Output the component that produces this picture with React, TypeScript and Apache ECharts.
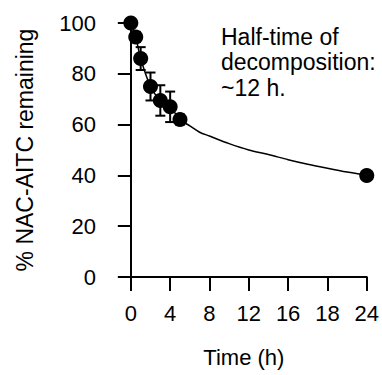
import React, { useEffect, useRef } from "react";
import * as echarts from "echarts";

const timeH = [0, 0.5, 1, 2, 3, 4, 5, 24];
const meanPct = [100, 94.5, 86, 75, 69.5, 67, 62, 40];
const sdPct = [1, 2, 4.5, 5.5, 6, 6, 2, 1.5];

const fitTime = [0, 0.5, 1, 2, 3, 4, 5, 6, 7, 8, 10, 12, 14, 16, 18, 20, 22, 24];
const fitPct = [100, 94.5, 86, 75, 69.5, 67, 62, 59.5, 57, 55.5, 52.5, 50, 48.2, 46.2, 44.4, 42.8, 41.3, 40];

const xTickValues = [0, 4, 8, 12, 16, 20, 24];
const xTickLabels = ["0", "4", "8", "12", "16", "18", "24"];

const yAxisTitle = "% NAC-AITC remaining";
const xAxisTitle = "Time (h)";
const annotationLines = ["Half-time of", "decomposition:", "~12 h."];

const FONT = "Liberation Sans, Arial, sans-serif";

export default function App() {
  const ref = useRef<HTMLDivElement>(null);
  useEffect(() => {
    if (!ref.current) return;
    const chart = echarts.init(ref.current, null, { renderer: "svg" });
    const points = timeH.map((t, i) => [t, meanPct[i], sdPct[i]]);
    chart.setOption({
      animation: false,
      backgroundColor: "#ffffff",
      grid: { left: 121, right: 12, top: 23, bottom: 98, containLabel: false },
      xAxis: {
        type: "value",
        min: -1,
        max: 24,
        name: xAxisTitle,
        nameLocation: "middle",
        nameGap: 69,
        nameTextStyle: { color: "#000", fontSize: 22, fontFamily: FONT },
        axisLine: { show: true, lineStyle: { color: "#000", width: 2 } },
        axisTick: { show: true, length: 14, customValues: xTickValues, lineStyle: { color: "#000", width: 2 } },
        axisLabel: {
          customValues: xTickValues,
          margin: 25,
          color: "#000",
          fontSize: 22,
          fontFamily: FONT,
          formatter: (v: number) => {
            const i = xTickValues.indexOf(v);
            return i >= 0 ? xTickLabels[i] : "";
          },
        },
        splitLine: { show: false },
      },
      yAxis: {
        type: "value",
        min: 0,
        max: 100,
        interval: 20,
        axisLine: { show: true, lineStyle: { color: "#000", width: 2 } },
        axisTick: { show: true, length: 13, lineStyle: { color: "#000", width: 2 } },
        axisLabel: { margin: 25, color: "#000", fontSize: 22, fontFamily: FONT },
        splitLine: { show: false },
      },
      graphic: [
        {
          type: "text",
          x: 25,
          y: 150,
          rotation: Math.PI / 2,
          style: {
            text: yAxisTitle,
            fill: "#000",
            font: `23px ${FONT}`,
            align: "center",
            verticalAlign: "middle",
          },
        },
        {
          type: "text",
          x: 221,
          y: 24,
          style: {
            text: annotationLines.join("\n"),
            fill: "#000",
            font: `23px ${FONT}`,
            lineHeight: 25.5,
            align: "left",
            verticalAlign: "top",
          },
        },
      ],
      series: [
        {
          type: "line",
          data: fitTime.map((t, i) => [t, fitPct[i]]),
          showSymbol: false,
          symbol: "none",
          smooth: 0.3,
          lineStyle: { color: "#000", width: 1.5 },
          z: 1,
        },
        {
          type: "custom",
          data: points,
          z: 2,
          renderItem: (params: any, api: any) => {
            const x = api.value(0);
            const y = api.value(1);
            const e = api.value(2);
            const top = api.coord([x, y + e]);
            const bot = api.coord([x, y - e]);
            const w = 5;
            const style = { stroke: "#000", lineWidth: 2 };
            return {
              type: "group",
              children: [
                { type: "line", shape: { x1: top[0], y1: top[1], x2: bot[0], y2: bot[1] }, style },
                { type: "line", shape: { x1: top[0] - w, y1: top[1], x2: top[0] + w, y2: top[1] }, style },
                { type: "line", shape: { x1: bot[0] - w, y1: bot[1], x2: bot[0] + w, y2: bot[1] }, style },
              ],
            };
          },
        },
        {
          type: "scatter",
          data: points.map((p) => [p[0], p[1]]),
          symbol: "circle",
          symbolSize: 15,
          itemStyle: { color: "#000", opacity: 1 },
          z: 3,
        },
      ],
    });
    return () => chart.dispose();
  }, []);
  return <div ref={ref} style={{ position: "fixed", left: 0, top: 0, width: 382, height: 375 }} />;
}
